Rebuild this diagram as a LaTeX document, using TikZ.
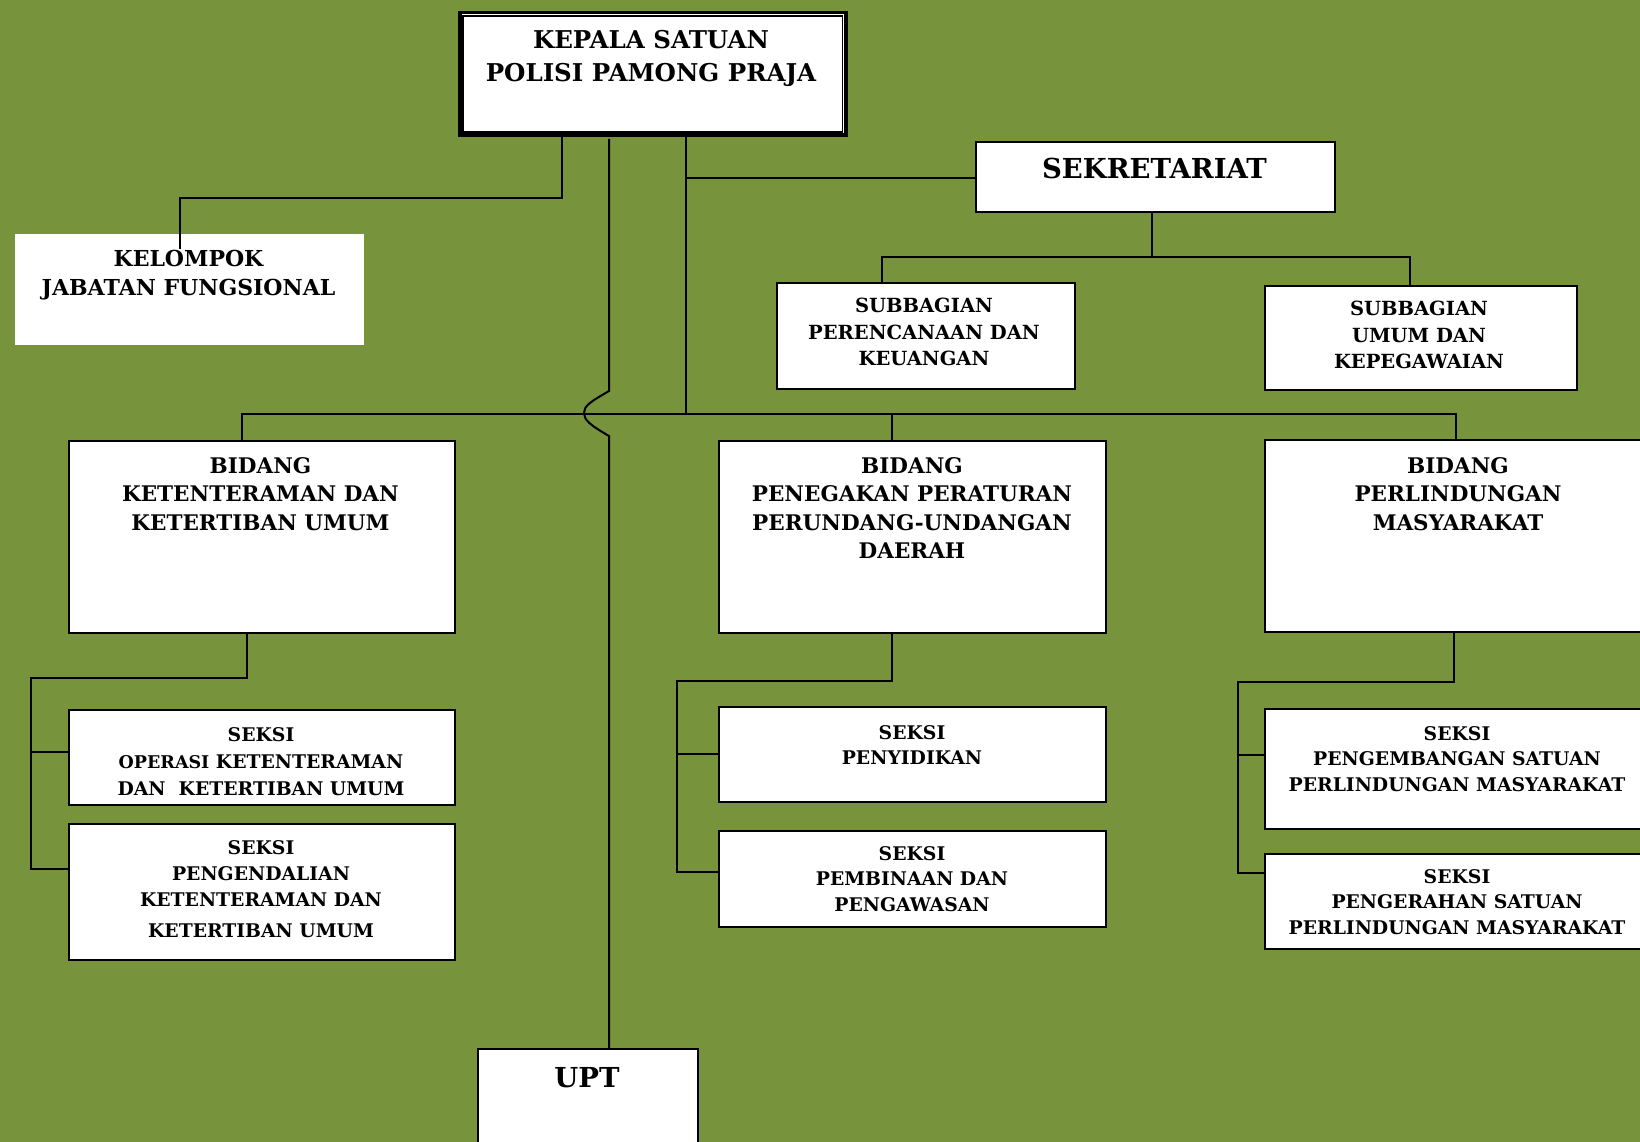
\documentclass[tikz,border=0pt]{standalone}
\usepackage{fontspec}
\setmainfont{DejaVu Serif}
\definecolor{olive}{RGB}{119,147,60}
\tikzset{
  unit/.style={draw=black, line width=2pt, fill=white, inner sep=0pt, anchor=north west},
  link/.style={draw=black, line width=2pt, line cap=rect},
  lbl/.style={inner sep=0pt, anchor=north, align=center, font=\bfseries},
}
\newcommand{\fs}[2]{\fontsize{#1}{#2}\selectfont}
\begin{document}
\begin{tikzpicture}[x=1pt,y=-1pt]
\fill[olive] (0,0) rectangle (1640,1142);
\useasboundingbox (0,0) rectangle (1640,1142);

% head of unit, double frame
\node[unit, line width=3.5pt, minimum width=386, minimum height=122.5] (kepala) at (458,11) {};
\draw[line width=1.5pt] ([shift={(5.2,5.2)}]kepala.north west) rectangle ([shift={(-5.2,-5.2)}]kepala.south east);

% functional group (no frame)
\node[unit, draw=none, minimum width=349, minimum height=111] (kelompok) at (14,233) {};

% secretariat and its subdivisions
\node[unit, minimum width=359, minimum height=70] (sekret) at (974.5,141) {};
\node[unit, minimum width=298, minimum height=106] (subA) at (776,282) {};
\node[unit, minimum width=312, minimum height=104] (subB) at (1263.5,284.5) {};

% divisions
\node[unit, minimum width=386, minimum height=192.5] (bidA) at (67.5,439.5) {};
\node[unit, minimum width=387, minimum height=192.5] (bidB) at (718,439.5) {};
\node[unit, minimum width=400, minimum height=192] (bidC) at (1264,439) {};

% sections
\node[unit, minimum width=385.5, minimum height=95] (skA1) at (68,708.5) {};
\node[unit, minimum width=385.5, minimum height=136] (skA2) at (68,823) {};
\node[unit, minimum width=387, minimum height=95] (skB1) at (718,706) {};
\node[unit, minimum width=387, minimum height=96] (skB2) at (718,830) {};
\node[unit, minimum width=400, minimum height=120] (skC1) at (1264,708) {};
\node[unit, minimum width=400, minimum height=95] (skC2) at (1264,853) {};

% technical unit
\node[unit, minimum width=220, minimum height=120] (upt) at (477,1048) {};

% junction points
\coordinate (jk) at (562,198);
\coordinate (jkEnd) at (180,248);
\coordinate (jTop) at (609,391);
\coordinate (jBot) at (609,436);
\coordinate (jHop) at (584,413);
\coordinate (jS) at (686,178);
\coordinate (jBar) at (686,414);
\coordinate (jBarL) at (242,414);
\coordinate (jBarM) at (892,414);
\coordinate (jBarR) at (1456,414);
\coordinate (jSub) at (1152,257);
\coordinate (jSubL) at (882,257);
\coordinate (jSubR) at (1410,257);
\coordinate (jA) at (247,678);
\coordinate (jAl) at (31,678);
\coordinate (jB) at (892,681);
\coordinate (jBl) at (677,681);
\coordinate (jC) at (1454,682);
\coordinate (jCl) at (1238,682);

% connectors
\draw[link] (kepala.south -| jk) -- (jk) -| (jkEnd);
\draw[link] (kepala.south -| jTop) ++(0,3) -- (jTop)
  .. controls (590,402) and (584,406) .. (jHop)
  .. controls (584,420) and (590,425) .. (jBot) -- (upt.north -| jBot);
\draw[link] (kepala.south -| jBar) -- (jBar);
\draw[link] (jS) -- (sekret.west |- jS);
\draw[link] (jBarL) -- (jBarR);
\draw[link] (jBarL) -- (bidA.north -| jBarL);
\draw[link] (jBarM) -- (bidB.north -| jBarM);
\draw[link] (jBarR) -- (bidC.north -| jBarR);
\draw[link] (sekret.south -| jSub) -- (jSub);
\draw[link] (jSubL) -- (jSubR);
\draw[link] (jSubL) -- (subA.north -| jSubL);
\draw[link] (jSubR) -- (subB.north -| jSubR);

\draw[link] (bidA.south -| jA) -- (jA) -- (jAl) -- (jAl |- 0,869);
\draw[link] (jAl |- 0,752) -- (skA1.west |- 0,752);
\draw[link] (jAl |- 0,869) -- (skA2.west |- 0,869);
\draw[link] (bidB.south -| jB) -- (jB) -- (jBl) -- (jBl |- 0,872);
\draw[link] (jBl |- 0,754) -- (skB1.west |- 0,754);
\draw[link] (jBl |- 0,872) -- (skB2.west |- 0,872);
\draw[link] (bidC.south -| jC) -- (jC) -- (jCl) -- (jCl |- 0,873);
\draw[link] (jCl |- 0,755) -- (skC1.west |- 0,755);
\draw[link] (jCl |- 0,873) -- (skC2.west |- 0,873);

% texts
\node[lbl, font=\bfseries\fs{24.5}{33}] (tKepala) at (651,30) {KEPALA SATUAN\\POLISI PAMONG PRAJA};
\node[lbl, font=\bfseries\fs{22}{29}] (tKelompok) at (188.5,250) {KELOMPOK\\JABATAN FUNGSIONAL};
\node[lbl, font=\bfseries\fs{27.5}{34}] (tSekret) at (1154.5,158) {SEKRETARIAT};
\node[lbl, font=\bfseries\fs{19.5}{26.5}] (tSubA) at (924,298) {SUBBAGIAN\\PERENCANAAN DAN\\KEUANGAN};
\node[lbl, font=\bfseries\fs{19.5}{26.5}] (tSubB) at (1419,301) {SUBBAGIAN\\UMUM DAN\\KEPEGAWAIAN};
\node[lbl, font=\bfseries\fs{21.5}{28.5}] (tBidA) at (260.5,457) {BIDANG\\KETENTERAMAN DAN\\KETERTIBAN UMUM};
\node[lbl, font=\bfseries\fs{21.5}{28.5}] (tBidB) at (912,457) {BIDANG\\PENEGAKAN PERATURAN\\PERUNDANG-UNDANGAN\\DAERAH};
\node[lbl, font=\bfseries\fs{21.5}{28.5}] (tBidC) at (1458,457) {BIDANG\\PERLINDUNGAN\\MASYARAKAT};
\node[lbl, font=\bfseries\fs{18.8}{27}] (tSkA1) at (261,727) {SEKSI\\{\fs{17.5}{27}OPERASI} KETENTERAMAN\\DAN\ \ KETERTIBAN UMUM};
\node[lbl, font=\bfseries\fs{18.8}{26}] (tSkA2) at (261,840) {SEKSI\\PENGENDALIAN\\KETENTERAMAN DAN\\[5pt]KETERTIBAN UMUM};
\node[lbl, font=\bfseries\fs{18.8}{25.5}] (tSkB1) at (912,725) {SEKSI\\PENYIDIKAN};
\node[lbl, font=\bfseries\fs{18.8}{25.5}] (tSkB2) at (912,846) {SEKSI\\PEMBINAAN DAN\\PENGAWASAN};
\node[lbl, font=\bfseries\fs{18.8}{25.5}] (tSkC1) at (1457,726) {SEKSI\\PENGEMBANGAN SATUAN\\PERLINDUNGAN MASYARAKAT};
\node[lbl, font=\bfseries\fs{18.8}{25.5}] (tSkC2) at (1457,869) {SEKSI\\PENGERAHAN SATUAN\\PERLINDUNGAN MASYARAKAT};
\node[lbl, font=\bfseries\fs{27.5}{34}] (tUpt) at (587,1067) {UPT};
\end{tikzpicture}
\end{document}
